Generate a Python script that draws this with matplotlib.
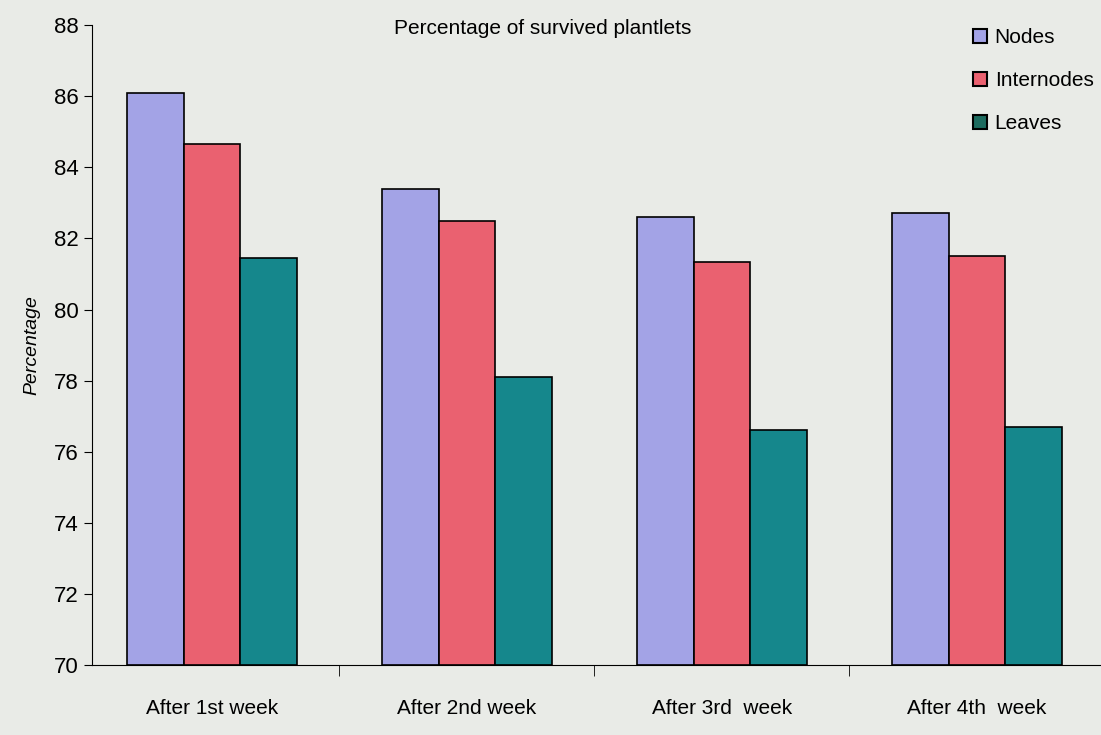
import matplotlib.pyplot as plt
import numpy as np

categories = ["After 1st week", "After 2nd week", "After 3rd  week", "After 4th  week"]
nodes = [86.1, 83.4, 82.6, 82.7]
internodes = [84.65, 82.5, 81.35, 81.5]
leaves = [81.45, 78.1, 76.6, 76.7]
series_names = ["Nodes", "Internodes", "Leaves"]

plt.rcParams['font.family'] = ['Liberation Sans Narrow', 'Liberation Sans', 'DejaVu Sans']

bg = "#e9ebe7"
fig = plt.figure(figsize=(11.01, 7.35), dpi=100, facecolor=bg)
ax = fig.add_axes([0.0836, 0.095, 0.931, 0.871])
ax.set_facecolor(bg)

x = np.arange(len(categories))
w = 0.222
colors = ["#a3a3e6", "#ea6170", "#15878c"]
for i, (vals, c, name) in enumerate(zip([nodes, internodes, leaves], colors, series_names)):
    ax.bar(x + (i - 1) * w, [v - 70 for v in vals], width=w, bottom=70, color=c,
           edgecolor="black", linewidth=1.2, label=name)

ax.set_ylim(70, 88)
ax.set_xlim(-0.47, 3.55)
ax.set_yticks(range(70, 89, 2))
ax.tick_params(axis="y", labelsize=16, length=6, direction="out")
ax.set_xticks(x)
ax.set_xticklabels(categories, fontsize=15)
ax.set_xticks([0.5, 1.5, 2.5], minor=True)
ax.tick_params(axis="x", which="major", length=0, pad=24)
ax.tick_params(axis="x", which="minor", length=8)
for s in ["top", "right"]:
    ax.spines[s].set_visible(False)
ax.set_ylabel("Percentage", fontsize=14, style="italic", labelpad=10)
ax.text(0.44, 0.995, "Percentage of survived plantlets", transform=ax.transAxes,
        ha="center", va="center", fontsize=15)

handles = [plt.Line2D([], [], marker="s", linestyle="none", markersize=10,
                      markerfacecolor=c, markeredgecolor="black", markeredgewidth=1.5)
           for c in ["#a3a3e6", "#ea6170", "#1d6b5f"]]
ax.legend(handles, series_names, loc="upper left", bbox_to_anchor=(0.84, 1.015),
          frameon=False, fontsize=15, handletextpad=0.0, labelspacing=1.15,
          borderaxespad=0.2, handlelength=1.4)

fig.savefig("out.png", dpi=100, facecolor=bg)
